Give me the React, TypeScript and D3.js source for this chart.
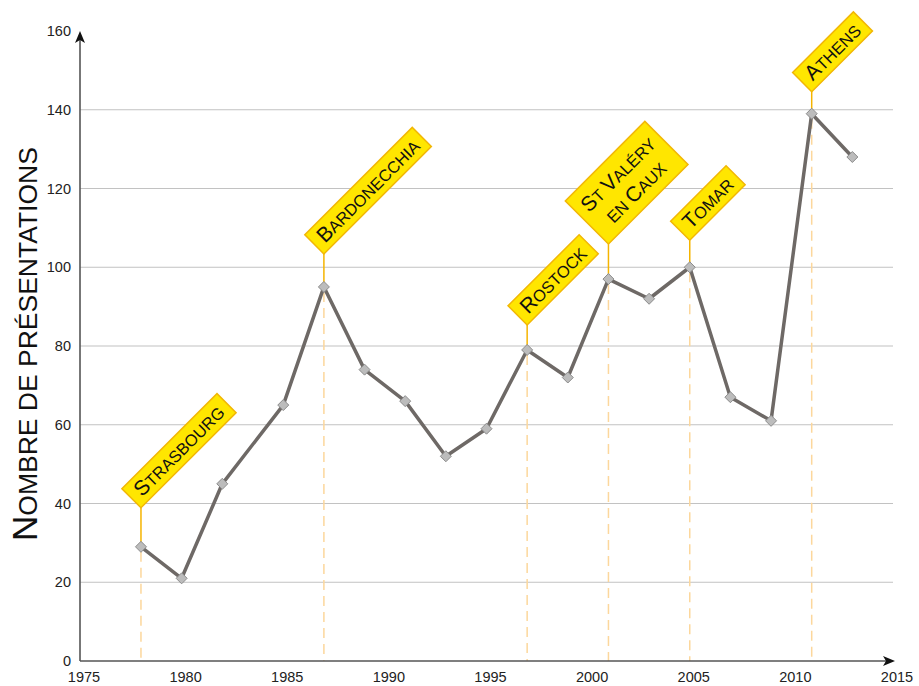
import React from 'react';
import * as d3 from 'd3';

const years = [1978, 1980, 1982, 1985, 1987, 1989, 1991, 1993, 1995, 1997, 1999, 2001, 2003, 2005, 2007, 2009, 2011, 2013];
const counts = [29, 21, 45, 65, 95, 74, 66, 52, 59, 79, 72, 97, 92, 100, 67, 61, 139, 128];

const labelYears = [1978, 1987, 1997, 2001, 2005, 2011];
const labelTexts = ['Strasbourg', 'Bardonecchia', 'Rostock', 'St Valéry\nen Caux', 'Tomar', 'Athens'];

const xTicks = [1975, 1980, 1985, 1990, 1995, 2000, 2005, 2010, 2015];
const yTicks = [0, 20, 40, 60, 80, 100, 120, 140, 160];
const yGrid = [20, 40, 60, 80, 100, 120, 140];

const yTitle = 'Nombre de présentations';

// layout (not data)
const leaderLengths = [39, 33, 25, 35, 27, 22];
const W = 919;
const H = 686;
const FONT = '"Liberation Sans", Arial, Helvetica, sans-serif';
const BIG = 21;
const SMALL = 16.5;

let ctx: CanvasRenderingContext2D | null = null;
function measure(text: string, size: number): number {
  if (!ctx) ctx = document.createElement('canvas').getContext('2d');
  if (!ctx) return text.length * size * 0.65;
  ctx.font = `${size}px ${FONT}`;
  return ctx.measureText(text).width;
}

type Run = { t: string; big: boolean };
function smallCaps(s: string): Run[] {
  const runs: Run[] = [];
  for (const ch of s) {
    const big = ch !== ch.toLowerCase() && ch === ch.toUpperCase();
    const t = ch.toUpperCase();
    const last = runs[runs.length - 1];
    if (last && last.big === big) last.t += t;
    else runs.push({ t, big });
  }
  return runs;
}
function runsWidth(runs: Run[], big: number, small: number) {
  return runs.reduce((a, r) => a + measure(r.t, r.big ? big : small), 0);
}

export default function App() {
  const x = d3.scaleLinear().domain([1975, 2015]).range([80, 893]);
  const y = d3.scaleLinear().domain([0, 160]).range([661, 31]);

  const pts = years.map((yr, i) => [x(yr), y(counts[i])] as [number, number]);
  const line = d3.line()(pts) || '';

  const titleRuns = smallCaps(yTitle);

  return (
    <svg
      width={W}
      height={H}
      style={{ position: 'absolute', left: 0, top: 0, background: '#fff' }}
      fontFamily={FONT}
    >
      <rect x={0} y={0} width={W} height={H} fill="#fff" />
      {/* gridlines */}
      {yGrid.map((v) => (
        <line key={'g' + v} x1={x(1975)} x2={x(2015)} y1={y(v)} y2={y(v)} stroke="#c2c2c2" strokeWidth={1.2} />
      ))}
      {/* dashed drop lines */}
      {labelYears.map((yr, i) => {
        const v = counts[years.indexOf(yr)];
        return (
          <line
            key={'d' + i}
            x1={x(yr)}
            x2={x(yr)}
            y1={y(v) + 5}
            y2={y(0)}
            stroke="#fcd79c"
            strokeWidth={1.5}
            strokeDasharray="10,6"
          />
        );
      })}
      {/* leaders */}
      {labelYears.map((yr, i) => {
        const v = counts[years.indexOf(yr)];
        return (
          <line
            key={'l' + i}
            x1={x(yr)}
            x2={x(yr)}
            y1={y(v)}
            y2={y(v) - leaderLengths[i]}
            stroke="#f5b400"
            strokeWidth={1.5}
          />
        );
      })}
      {/* axes */}
      <line x1={x(1975)} x2={x(1975)} y1={y(0)} y2={y(160) + 8} stroke="#555" strokeWidth={1.6} />
      <path
        d={`M${x(1975)},${y(160)} L${x(1975) - 5},${y(160) + 12} L${x(1975)},${y(160) + 9} L${x(1975) + 5},${y(160) + 12} Z`}
        fill="#111"
      />
      <line x1={x(1975)} x2={x(2015) - 6} y1={y(0)} y2={y(0)} stroke="#555" strokeWidth={1.6} />
      <path
        d={`M${x(2015) + 2},${y(0)} L${x(2015) - 10},${y(0) - 5} L${x(2015) - 7},${y(0)} L${x(2015) - 10},${y(0) + 5} Z`}
        fill="#111"
      />
      {/* tick labels */}
      {yTicks.map((v) => (
        <text key={'yt' + v} x={71} y={y(v)} dy="0.35em" textAnchor="end" fontSize={14.5} fill="#222">
          {v}
        </text>
      ))}
      {xTicks.map((v) => (
        <text key={'xt' + v} x={x(v) + 4} y={682} textAnchor="middle" fontSize={14.5} fill="#222">
          {v}
        </text>
      ))}
      {/* y title */}
      <text transform={`translate(37,541) rotate(-90)`} fill="#111">
        {titleRuns.map((r, k) => (
          <tspan key={k} fontSize={r.big ? 35 : 26.5}>
            {r.t}
          </tspan>
        ))}
      </text>
      {/* data line */}
      <path d={line} fill="none" stroke="#6e6966" strokeWidth={3.5} strokeLinejoin="round" />
      {pts.map((p, i) => (
        <path
          key={'m' + i}
          d={`M${p[0]},${p[1] - 5.5} L${p[0] + 5.5},${p[1]} L${p[0]},${p[1] + 5.5} L${p[0] - 5.5},${p[1]} Z`}
          fill="#bcbcbc"
          stroke="#8c8c8c"
          strokeWidth={1}
        />
      ))}
      {/* label boxes */}
      {labelYears.map((yr, i) => {
        const v = counts[years.indexOf(yr)];
        const ax = x(yr);
        const ay = y(v) - leaderLengths[i];
        const lines = labelTexts[i].split('\n').map(smallCaps);
        const widths = lines.map((l) => runsWidth(l, BIG, SMALL));
        const pad = 8;
        const w = Math.max(...widths) + pad * 2;
        const h = lines.length === 1 ? 27 : 61;
        const baselines = lines.length === 1 ? [-6.5] : [-35.5, -10.5];
        return (
          <g key={'b' + i} transform={`translate(${ax},${ay}) rotate(-45)`}>
            <rect x={0} y={-h} width={w} height={h} fill="#ffe600" stroke="#f2b705" strokeWidth={1.5} />
            {lines.map((l, j) => (
              <text
                key={j}
                x={lines.length === 1 ? pad : w / 2}
                y={baselines[j]}
                textAnchor={lines.length === 1 ? 'start' : 'middle'}
                fill="#111"
              >
                {l.map((r, k) => (
                  <tspan key={k} fontSize={r.big ? BIG : SMALL}>
                    {r.t}
                  </tspan>
                ))}
              </text>
            ))}
          </g>
        );
      })}
    </svg>
  );
}
